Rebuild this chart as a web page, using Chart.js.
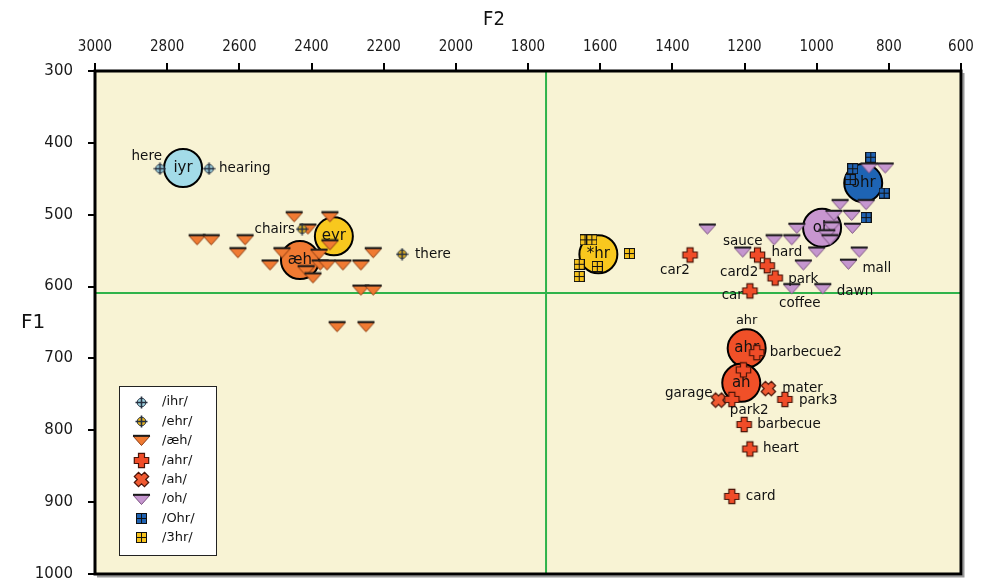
<!DOCTYPE html>
<html><head><meta charset="utf-8">
<script src="https://cdn.jsdelivr.net/npm/chart.js@4.4.1/dist/chart.umd.min.js"></script>
<style>html,body{margin:0;padding:0;background:#fff;overflow:hidden}canvas{display:block}</style>
</head><body>
<canvas id="c" width="993" height="582"></canvas>
<script>
// Vowel formant measurements in Hz, each point is [F2, F1]
const ihrPoints = [[2820, 436], [2684, 436]];
const ihrWords = ['here', 'hearing'];

const ehrPoints = [[2426, 520], [2149, 555]];
const ehrWords = ['chairs', 'there'];

const aehPoints = [
  [2717, 535], [2678, 535], [2584, 535], [2604, 553], [2515, 570],
  [2448, 503], [2349, 503], [2410, 520], [2482, 553], [2349, 542],
  [2379, 555], [2376, 570], [2415, 578], [2396, 588], [2357, 570],
  [2313, 570], [2263, 570], [2229, 553], [2263, 605], [2229, 605],
  [2329, 656], [2249, 656]
];

const ahrPoints = [
  [1351, 556], [1164, 556], [1137, 571], [1115, 588], [1185, 606],
  [1166, 692], [1203, 716], [1235, 757], [1088, 757], [1201, 792],
  [1185, 826], [1235, 892]
];
const ahrWords = ['car2', 'hard', 'card2', 'park', 'car', 'barbecue2', null,
  'park2', 'park3', 'barbecue', 'heart', 'card'];

const ahPoints = [[1272, 758], [1134, 742]];
const ahWords = ['garage', 'mater'];

const ohPoints = [
  [1303, 520], [1205, 552], [1118, 535], [1069, 535], [1055, 519],
  [1037, 570], [1000, 552], [1069, 603], [983, 603], [912, 569],
  [882, 552], [935, 486], [863, 486], [952, 501], [903, 501],
  [901, 519], [958, 517], [972, 528], [963, 535], [855, 435], [810, 435]
];
const ohWords = [null, 'sauce', null, null, null, null, null, 'coffee', 'dawn', 'mall',
  null, null, null, null, null, null, null, null, null, null, null];

const ohrPoints = [[850, 420], [900, 436], [907, 451], [813, 470], [863, 504]];

const thrPoints = [[1642, 535], [1623, 535], [1658, 569], [1658, 586], [1608, 572], [1519, 554]];

// Category means
const meanLabels = ['iyr', 'eyr', 'æh', '*hr', 'ohr', 'oh', 'ahr', 'ah'];
const meanPoints = [[2756, 435], [2338, 530], [2432, 563], [1605, 555],
  [871, 456], [985, 518], [1194, 686], [1209, 734]];

const seriesNames = ['/ihr/', '/ehr/', '/æh/', '/ahr/', '/ah/', '/oh/', '/Ohr/', '/3hr/'];

// Reference lines
const f2Divider = 1750;
const f1Divider = 609;

// Axis ranges
const f2Range = [600, 3000];
const f1Range = [300, 1000];

const FONT = '"DejaVu Sans", sans-serif';
const FONT_COND = '"DejaVu Sans Condensed", "DejaVu Sans", sans-serif';

// ---- marker glyphs ----
function makeCanvas(w, h) {
  const c = document.createElement('canvas');
  c.width = w; c.height = h;
  return c;
}
function crossCircle(fill) {
  const c = makeCanvas(13, 13), g = c.getContext('2d');
  g.beginPath(); g.arc(6.5, 6.5, 4.3, 0, Math.PI * 2);
  g.fillStyle = fill; g.fill();
  g.lineWidth = 1; g.strokeStyle = '#263040'; g.stroke();
  g.beginPath();
  g.moveTo(0.5, 6.5); g.lineTo(12.5, 6.5);
  g.moveTo(6.5, 0.5); g.lineTo(6.5, 12.5);
  g.lineWidth = 1.6; g.stroke();
  return c;
}
function downTriangle(fill, edge) {
  const c = makeCanvas(19, 13), g = c.getContext('2d');
  g.beginPath();
  g.moveTo(1, 2); g.lineTo(18, 2); g.lineTo(9.5, 11.5); g.closePath();
  g.fillStyle = fill; g.fill();
  g.lineWidth = 1; g.strokeStyle = edge; g.stroke();
  g.beginPath(); g.moveTo(1, 1.8); g.lineTo(18, 1.8);
  g.lineWidth = 2; g.strokeStyle = '#1a1a1a'; g.stroke();
  return c;
}
function plusMark(fill, rotate) {
  const c = makeCanvas(19, 19), g = c.getContext('2d');
  g.translate(9.5, 9.5);
  if (rotate) g.rotate(Math.PI / 4);
  const a = 3, b = 7.2;
  g.beginPath();
  g.moveTo(-a, -b); g.lineTo(a, -b); g.lineTo(a, -a); g.lineTo(b, -a); g.lineTo(b, a);
  g.lineTo(a, a); g.lineTo(a, b); g.lineTo(-a, b); g.lineTo(-a, a); g.lineTo(-b, a);
  g.lineTo(-b, -a); g.lineTo(-a, -a); g.closePath();
  g.fillStyle = fill; g.fill();
  g.lineWidth = 1.2; g.strokeStyle = '#4a1408'; g.stroke();
  return c;
}
function gridSquare(fill) {
  const c = makeCanvas(11, 11), g = c.getContext('2d');
  g.fillStyle = '#111'; g.fillRect(0, 0, 11, 11);
  g.fillStyle = fill;
  g.fillRect(1, 1, 4, 4); g.fillRect(6, 1, 4, 4);
  g.fillRect(1, 6, 4, 4); g.fillRect(6, 6, 4, 4);
  return c;
}

const markers = [
  crossCircle('#9fd5e3'),
  crossCircle('#e6b422'),
  downTriangle('#f07a32', '#8a3a10'),
  plusMark('#f04c28', false),
  plusMark('#f05a32', true),
  downTriangle('#c596cf', '#7a5080'),
  gridSquare('#1f62b2'),
  gridSquare('#f6c21c')
];

const seriesPoints = [ihrPoints, ehrPoints, aehPoints, ahrPoints, ahPoints, ohPoints, ohrPoints, thrPoints];
const seriesWords = [ihrWords, ehrWords, null, ahrWords, ahWords, ohWords, null, null];

const meanColors = ['#a3dbe8', '#f8c81e', '#f07a32', '#f8c81e', '#1e64b4', '#c896d0', '#f05028', '#f05028'];

// Word label placement relative to its marker
const wordPlacement = {
  here: [2, -12, 'right'], hearing: [10, 0, 'left'],
  chairs: [-7, 0, 'right'], there: [13, 0, 'left'],
  car2: [-15, 16, 'center'], sauce: [0, -11, 'center'], hard: [14, -2, 'left'],
  card2: [-9, 7, 'right'], park: [13, 2, 'left'], car: [-7, 5, 'right'],
  coffee: [8, 15, 'center'], mall: [14, 4, 'left'], dawn: [14, 3, 'left'],
  barbecue2: [13, 0, 'left'], mater: [14, 0, 'left'], park3: [14, 1, 'left'],
  garage: [-6, -7, 'right'], park2: [-2, 11, 'left'], barbecue: [13, 0, 'left'],
  heart: [13, 0, 'left'], card: [14, 0, 'left']
};

const toXY = p => ({ x: p[0], y: p[1] });

const datasets = seriesPoints.map((pts, i) => ({
  label: seriesNames[i],
  data: pts.map(toXY),
  pointStyle: markers[i],
  pointRadius: 6,
  order: 0
}));
const MEAN_INDEX = datasets.length;
datasets.push({
  label: 'means',
  data: meanPoints.map(toXY),
  pointStyle: 'circle',
  pointRadius: 19,
  pointBackgroundColor: meanColors,
  pointBorderColor: '#000',
  pointBorderWidth: 2,
  order: 1
});

const framePlugin = {
  id: 'frame',
  beforeDraw(chart) {
    const { ctx, chartArea: a } = chart;
    ctx.save();
    ctx.fillStyle = '#f8f3d4';
    ctx.fillRect(a.left, a.top, a.right - a.left, a.bottom - a.top);
    ctx.restore();
  },
  beforeDatasetsDraw(chart) {
    const { ctx, chartArea: a, scales } = chart;
    const gx = scales.x.getPixelForValue(f2Divider);
    const gy = scales.y.getPixelForValue(f1Divider);
    ctx.save();
    ctx.strokeStyle = '#2fb34a';
    ctx.lineWidth = 2;
    ctx.beginPath();
    ctx.moveTo(gx, a.top); ctx.lineTo(gx, a.bottom);
    ctx.moveTo(a.left, gy); ctx.lineTo(a.right, gy);
    ctx.stroke();
    // soft shadow on right and bottom
    ctx.strokeStyle = '#9a9a9a';
    ctx.lineWidth = 2;
    ctx.beginPath();
    ctx.moveTo(a.right + 2.5, a.top + 2); ctx.lineTo(a.right + 2.5, a.bottom + 2.5);
    ctx.lineTo(a.left + 2, a.bottom + 2.5);
    ctx.stroke();
    ctx.strokeStyle = '#000';
    ctx.lineWidth = 3;
    ctx.strokeRect(a.left, a.top, a.right - a.left, a.bottom - a.top);
    ctx.restore();
  },
  afterDatasetDraw(chart, args) {
    if (args.index !== MEAN_INDEX) return;
    const { ctx } = chart;
    const meta = chart.getDatasetMeta(MEAN_INDEX);
    ctx.save();
    ctx.fillStyle = '#111';
    ctx.font = '15px ' + FONT;
    ctx.textAlign = 'center';
    ctx.textBaseline = 'middle';
    meta.data.forEach((el, i) => {
      ctx.fillText(meanLabels[i], el.x, el.y);
      if (meanLabels[i] === 'ahr') {
        ctx.font = '13px ' + FONT;
        ctx.fillText('ahr', el.x, el.y - 28);
        ctx.font = '15px ' + FONT;
      }
    });
    ctx.restore();
  },
  afterDatasetsDraw(chart) {
    const { ctx } = chart;
    ctx.save();
    ctx.fillStyle = '#111';
    ctx.font = '13.5px ' + FONT;
    ctx.textBaseline = 'middle';
    seriesWords.forEach((words, si) => {
      if (!words) return;
      const meta = chart.getDatasetMeta(si);
      words.forEach((w, pi) => {
        if (!w) return;
        const el = meta.data[pi];
        const pl = wordPlacement[w] || [12, 0, 'left'];
        ctx.textAlign = pl[2];
        ctx.fillText(w, el.x + pl[0], el.y + pl[1]);
      });
    });

    // legend box
    const bx = 119.5, by = 386.5, bw = 97, bh = 169;
    ctx.fillStyle = '#fff';
    ctx.fillRect(bx, by, bw, bh);
    ctx.strokeStyle = '#222';
    ctx.lineWidth = 1;
    ctx.strokeRect(bx, by, bw, bh);
    ctx.font = '13px ' + FONT;
    ctx.textAlign = 'left';
    ctx.fillStyle = '#111';
    seriesNames.forEach((name, i) => {
      const y = 402 + i * 19.4;
      const m = markers[i];
      ctx.drawImage(m, Math.round(141 - m.width / 2), Math.round(y - m.height / 2));
      ctx.fillText(name, 162, y);
    });

    // axis titles
    ctx.font = '20px ' + FONT_COND;
    ctx.textAlign = 'center';
    ctx.fillText('F2', 494, 20);
    ctx.textAlign = 'left';
    ctx.font = '20px ' + FONT;
    ctx.fillText('F1', 21, (chart.chartArea.top + chart.chartArea.bottom) / 2);
    ctx.restore();
  }
};

const plainNumber = v => String(v);
const PLOT_BOTTOM = 574;

const chart = new Chart(document.getElementById('c'), {
  type: 'scatter',
  data: { datasets },
  options: {
    responsive: false,
    animation: false,
    devicePixelRatio: 1,
    layout: { autoPadding: false, padding: { left: 0, top: 0, right: 32, bottom: 8 } },
    plugins: { legend: { display: false }, tooltip: { enabled: false } },
    events: [],
    scales: {
      x: {
        type: 'linear', position: 'top', reverse: true,
        min: f2Range[0], max: f2Range[1],
        ticks: { stepSize: 200, autoSkip: false, maxRotation: 0, padding: 7,
          callback: plainNumber,
          color: '#1a1a1a', font: { family: FONT_COND, size: 15 } },
        grid: { drawOnChartArea: false, drawTicks: true, tickLength: 8, color: '#000', lineWidth: 2 },
        border: { display: false },
        afterFit(s) { s.height = 71; s.paddingLeft = 0; s.paddingRight = 0; }
      },
      y: {
        type: 'linear', reverse: true,
        min: f1Range[0], max: f1Range[1],
        ticks: { stepSize: 100, autoSkip: false, padding: 15,
          callback: plainNumber,
          color: '#1a1a1a', font: { family: FONT, size: 15 } },
        grid: { drawOnChartArea: false, drawTicks: true, tickLength: 7, color: '#000', lineWidth: 2 },
        border: { display: false },
        afterFit(s) { s.width = 95; s.paddingTop = 0; s.paddingBottom = 0; }
      }
    }
  },
  plugins: [framePlugin]
});

// keep the plot frame's lower edge where the layout expects it
const gap = chart.chartArea.bottom - PLOT_BOTTOM;
if (gap !== 0) {
  chart.options.layout.padding.bottom += gap;
  chart.update();
}
</script>
</body></html>
